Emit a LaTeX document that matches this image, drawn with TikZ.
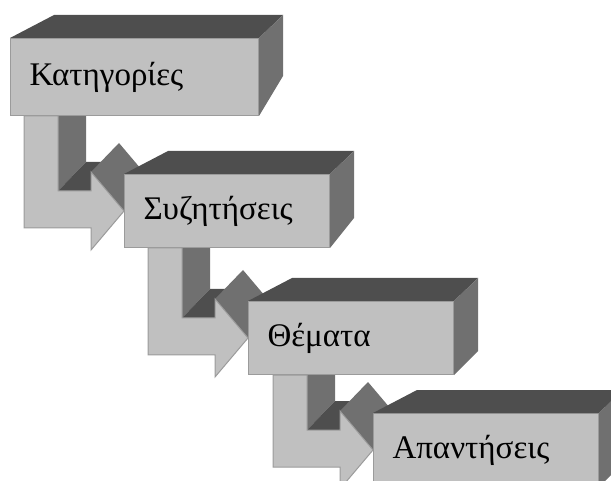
\documentclass[tikz,border=0pt]{standalone}
\usepackage{fontspec}
\setmainfont{Liberation Serif}
\usetikzlibrary{calc, backgrounds}
\definecolor{frontgray}{RGB}{192,192,192}
\definecolor{topgray}{RGB}{78,78,78}
\definecolor{sidegray}{RGB}{112,112,112}
\definecolor{edgegray}{RGB}{155,155,155}

\begin{document}
\begin{tikzpicture}[
    x=1pt, y=-1pt,
    block/.style={rectangle, draw=edgegray, fill=frontgray, line width=1pt,
                  anchor=north west, minimum height=73pt, inner xsep=19pt,
                  align=left, font=\fontsize{33}{38}\selectfont},
    topface/.style={fill=topgray},
    sideface/.style={fill=sidegray},
    arrowface/.style={fill=frontgray, draw=edgegray, line width=1pt}
]
\useasboundingbox (0,0) rectangle (611,481);
\node[block, text width=210pt, minimum height=77pt] (cat) at (10,38) {Κατηγορίες};
\node[block, text width=167pt] (disc) at (124,174) {Συζητήσεις};
\node[block, text width=167pt] (topic) at (248,301) {Θέματα};
\node[block, text width=187pt] (reply) at (373,413) {Απαντήσεις};
%% top and right faces of the blocks
\foreach \n/\dy in {cat/40, disc/30, topic/24, reply/24} {
  \fill[topface] (\n.north west) -- (\n.north east) -- ($(\n.north east)+(24,-23)$)
      -- ($(\n.north west)+(44,-23)$) -- cycle;
  \fill[sideface] (\n.north east) -- ($(\n.north east)+(24,-23)$)
      -- ($(\n.south east)+(24,-\dy)$) -- (\n.south east) -- cycle;
}
%% bent arrows behind the blocks
\begin{scope}[on background layer]
\foreach \up/\lo in {cat/disc, disc/topic, topic/reply} {
  \coordinate (sl) at ($(\lo.north west)+(-100,0)$);
  \coordinate (sr) at ($(\lo.north west)+(-66,0)$);
  \coordinate (a) at (sl |- \up.south);
  \coordinate (b) at (sr |- \up.south);
  \coordinate (c) at ($(\lo.north west)+(-66,17)$);
  \coordinate (d) at ($(\lo.north west)+(-33,17)$);
  \coordinate (e) at ($(\lo.north west)+(-33,-2)$);
  \coordinate (f) at ($(\lo.south west)+(-33,2)$);
  \coordinate (g) at ($(\lo.north west)+(-33,54)$);
  \coordinate (h) at ($(\lo.north west)+(-100,54)$);
  \fill[sideface] (b) -- ++(28,-29) -- ($(c)+(28,-29)$) -- (c) -- cycle;
  \fill[topface] (c) -- ++(28,-29) -- ($(d)+(28,-29)$) -- (d) -- cycle;
  \fill[sideface] (e) -- ++(28,-29) -- ($(\lo.west)+(28,-29)$) -- (\lo.west) -- cycle;
  \draw[arrowface] (a) -- (b) -- (c) -- (d) -- (e) -- (\lo.west) -- (f) -- (g) -- (h) -- cycle;
}
\end{scope}
\end{tikzpicture}
\end{document}
